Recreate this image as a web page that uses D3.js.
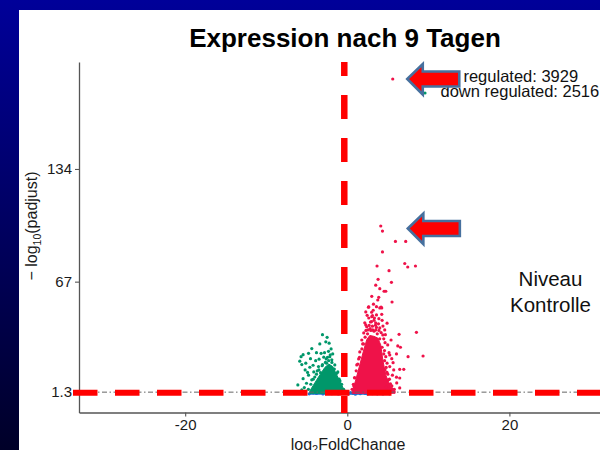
<!DOCTYPE html>
<html>
<head>
<meta charset="utf-8">
<script src="https://cdn.jsdelivr.net/npm/d3@7/dist/d3.min.js"></script>
<style>
  html, body { margin: 0; padding: 0; background: #fff; }
  svg { display: block; }
  text { font-family: "Liberation Sans", Arial, Helvetica, sans-serif; }
</style>
</head>
<body>
<svg id="chart" width="600" height="450"></svg>
<script>
// ---------------- data ----------------
const title = "Expression nach 9 Tagen";
const xTicks = [-20, 0, 20];
const yTicks = [1.3, 67, 134];
const yTickLabels = ["1.3", "67", "134"];
const legendLines = ["up regulated: 3929", "down regulated: 2516"];
const noteLines = ["Niveau", "Kontrolle"];
const padjThreshold = 1.3;
const overlayVerticalFC = -0.37;

// dense cores (outline of the solid mass of overlapping points), [log2FC, -log10 padj]
const upCore = [[0.6,1.4],[1.05,8.6],[1.54,17.5],[2.03,26.4],[2.40,32.5],[2.77,35.0],[3.27,34.5],[3.76,33.5],[4.13,29.4],[4.38,20.5],[4.75,11.5],[5.24,5.6],[5.9,2.0],[5.9,0.6],[0.6,0.6]];
const downCore = [[-4.62,2.0],[-4.01,6.8],[-3.39,11.5],[-2.77,16.0],[-2.28,18.0],[-1.79,16.5],[-1.30,11.5],[-0.80,6.8],[-0.35,2.0],[-0.35,0.6],[-4.6,0.6]];
const nsCore = [[-4.6,0.1],[-4.6,1.0],[5.3,1.0],[5.3,0.1]];

// individual up-regulated points
const upPoints = [
  [5.61,187.5],[4.13,100.1],[4.34,97.1],[5.94,90.9],[7.21,90.9],[4.34,84.7],[3.67,76.3],[7.09,77.8],
  [7.46,75.7],[8.41,76.3],[5.15,73.5],[3.80,68.4],[5.45,66.6],[3.51,64.9],[4.01,62.8],[4.54,61.3],
  [4.75,61.3],[3.02,58.3],[3.88,57.7],[5.52,54.9],[3.23,53.6],[4.01,51.4],[4.25,51.4],[2.65,52.0],
  [3.11,46.8],[3.60,47.2],[4.25,47.6],[3.35,45.4],[2.98,43.2],[3.85,41.9],[4.91,42.3],[3.48,41.1],
  [2.81,39.1],[3.60,52.1],[4.17,51.8],[2.61,51.8],[3.02,46.2],[4.17,36.7],[6.39,35.7],[8.53,36.9],
  [5.40,32.3],[4.66,30.7],[6.23,28.8],[6.56,28.0],[4.59,26.0],[5.15,24.8],[6.07,24.0],[9.35,22.8],
  [7.50,22.4],[4.75,22.4],[5.49,21.2],[5.65,18.8],[4.91,18.5],[5.24,16.5],[6.47,14.9],[6.97,14.9],
  [4.66,14.5],[5.57,11.4],[6.07,10.2],[6.47,9.7],[5.08,8.6],[5.33,6.2],[4.83,4.2],[2.86,43.0],
  [2.53,38.3],[2.28,49.0],[3.76,56.1],[2.65,45.4],[3.51,38.3],[4.01,39.5],[2.28,41.3],[3.14,38.3],
  [4.38,35.3],[4.62,38.3],[2.03,36.5],[1.79,32.3],[4.99,29.4],[5.24,23.4],[5.73,14.5],[6.10,6.8],
  [6.47,3.8],[1.54,25.2],[1.17,17.5],[0.92,9.7],[2.16,42.5],[3.3,44.0],[3.9,45.0],[2.4,40.2],
  [4.4,40.6],[3.0,48.8],[4.5,33.0],[1.9,30.0],[1.4,21.0],[0.8,5.0],[5.6,3.0],[4.9,13.0],
  [2.5,36.0],[2.9,38.0],[3.3,37.5],[3.7,36.0],[2.2,34.0],[4.0,33.0],[2.0,30.0],[4.3,28.0],
  [1.8,27.0],[4.5,24.0],[1.5,22.0],[4.6,20.0],[1.3,18.0],[4.8,16.0],[1.1,14.0],[5.0,12.0],
  [0.9,10.0],[5.2,9.0],[0.75,6.0],[5.5,5.0],[0.6,3.0],[5.8,3.0],[3.1,40.5],[3.5,42.5],
  [2.7,41.0],[3.9,38.0],[4.3,44.0],[3.2,50.0],[2.45,47.0],[4.7,35.5],[2.3,38.0],[3.6,39.8]
];

// individual down-regulated points
const downPoints = [
  [-3.06,35.5],[-2.49,33.9],[-3.39,30.0],[-2.65,31.2],[-2.24,30.4],[-4.38,27.2],[-3.80,24.8],[-3.23,24.4],
  [-2.81,24.8],[-5.45,23.6],[-4.78,24.4],[-2.32,25.6],[-5.70,22.4],[-4.54,21.2],[-3.48,20.9],[-2.90,22.1],
  [-2.16,22.4],[-5.86,19.7],[-5.12,18.5],[-4.22,17.3],[-5.61,17.7],[-4.62,16.1],[-3.55,16.5],[-3.06,17.7],
  [-2.56,18.5],[-5.20,14.5],[-4.13,13.3],[-3.30,12.9],[-4.78,11.4],[-5.45,9.3],[-4.38,8.6],[-5.03,6.6],
  [-6.10,5.6],[-4.01,10.3],[-1.91,20.5],[-1.54,17.5],[-1.17,13.3],[-5.61,2.6],[-3.9,20.0],[-2.0,27.0],
  [-4.9,13.0],[-3.7,14.0],[-2.6,21.0],[-1.8,24.0],[-5.3,4.0],[-0.9,8.0],
  [-4.8,3.0],[-4.5,6.0],[-4.2,9.0],[-3.8,12.0],[-3.5,14.5],[-3.1,17.0],[-2.7,19.0],[-2.3,20.0],
  [-1.9,19.0],[-1.6,15.0],[-1.3,12.5],[-1.0,9.0],[-0.7,6.0],[-0.45,3.0],[-2.45,22.0],[-2.1,23.5]
];

// non-significant points (below threshold)
const nsPoints = [
  [-4.7,0.3],[-4.2,0.9],[-3.8,0.5],[-3.3,1.1],[-3.0,0.2],[-2.6,0.7],[-2.2,1.0],[-1.9,0.4],
  [-1.5,0.8],[-1.1,0.2],[-0.8,1.1],[-0.5,0.5],[-0.2,0.9],[0.1,0.3],[0.4,1.0],[0.7,0.6],
  [1.0,0.1],[1.3,0.9],[1.6,0.4],[1.9,1.1],[2.2,0.6],[2.5,0.2],[2.8,0.8],[3.1,0.4],
  [3.4,1.0],[3.7,0.3],[4.0,0.7],[4.4,0.2],[4.8,0.6],[5.2,0.3],[-5.3,0.4]
];

// annotation arrows: tip positions in data coordinates
const arrowTips = [[7.40,187.5],[7.47,98.6]];

// ---------------- drawing ----------------
const svg = d3.select("#chart");

// slide background
const defs = svg.append("defs");
const grad = defs.append("linearGradient").attr("id","bg").attr("x1",0).attr("y1",0).attr("x2",0).attr("y2",1);
grad.append("stop").attr("offset","0%").attr("stop-color","#000099");
grad.append("stop").attr("offset","100%").attr("stop-color","#000028");
svg.append("rect").attr("width",600).attr("height",450).attr("fill","url(#bg)");
svg.append("rect").attr("x",19).attr("y",10).attr("width",581).attr("height",440).attr("fill","#fff");

const x = d3.scaleLinear().domain([-33.1, 31.5]).range([79, 602.6]);
const y = d3.scaleLinear().domain([-10.8, 197.6]).range([412.5, 62]);

const colUp = "#EF1249", colDown = "#00976A", colNs = "#1F6FD0";
const R = 1.6;

// title
svg.append("text").attr("x",345).attr("y",46.5).attr("text-anchor","middle")
  .attr("font-size",26).attr("font-weight","bold").attr("fill","#000").text(title);

// axes
const yAxis = d3.axisLeft(y).tickValues(yTicks).tickFormat((d,i)=>yTickLabels[i]).tickSize(4).tickSizeOuter(0);
const xAxis = d3.axisBottom(x).tickValues(xTicks).tickFormat(d3.format("d")).tickSize(4).tickSizeOuter(0);
const gy = svg.append("g").attr("transform","translate(79,0)").call(yAxis);
const gx = svg.append("g").attr("transform","translate(0,412.5)").call(xAxis);
[gx, gy].forEach(g => {
  g.select(".domain").attr("stroke","#555").attr("stroke-width",1.3);
  g.selectAll(".tick line").attr("stroke","#555").attr("stroke-width",1.1);
  g.selectAll(".tick text").attr("font-size",15).attr("fill","#1a1a1a")
    .attr("font-family","'Liberation Sans', Arial, sans-serif");
});
gx.selectAll(".tick text").text(d => d < 0 ? "-" + Math.abs(d) : d);

// axis titles
const xt = svg.append("text").attr("x",348).attr("y",449.5).attr("text-anchor","middle")
  .attr("font-size",16).attr("fill","#1a1a1a");
xt.append("tspan").text("log");
xt.append("tspan").attr("font-size",11).attr("dy",3.5).text("2");
xt.append("tspan").attr("dy",-3.5).text("FoldChange");

const yt = svg.append("text").attr("transform","translate(37,226) rotate(-90)").attr("text-anchor","middle")
  .attr("font-size",16).attr("fill","#1a1a1a");
yt.append("tspan").text("\u2212 log");
yt.append("tspan").attr("font-size",10.5).attr("dy",3.5).text("10");
yt.append("tspan").attr("dy",-3.5).text("(padjust)");

// points
const plot = svg.append("g");
const lineGen = d3.line().x(d => x(d[0])).y(d => y(d[1]));
function core(data, col) {
  plot.append("path").attr("d", lineGen(data) + "Z").attr("fill", col).attr("stroke", col).attr("stroke-width", 1).attr("stroke-linejoin","round");
}
function pts(data, col) {
  plot.append("g").selectAll("circle").data(data).join("circle")
    .attr("cx", d => x(d[0])).attr("cy", d => y(d[1])).attr("r", R).attr("fill", col);
}
core(nsCore, colNs); pts(nsPoints, colNs);
core(downCore, colDown); pts(downPoints, colDown);
core(upCore, colUp); pts(upPoints, colUp);

// threshold line (ggplot dot-dash)
svg.append("line").attr("x1",79).attr("x2",600).attr("y1",y(padjThreshold)).attr("y2",y(padjThreshold))
  .attr("stroke","#666").attr("stroke-width",1).attr("stroke-dasharray","5,2.5,1.5,2.5");

// legend text (top right)
legendLines.forEach((t,i) => {
  svg.append("text").attr("x",440.5).attr("y",81.5 + i*15).attr("font-size",16.5).attr("fill","#111").text(t);
});
svg.append("circle").attr("cx",425).attr("cy",78).attr("r",R).attr("fill",colUp);
svg.append("circle").attr("cx",425).attr("cy",93).attr("r",R).attr("fill",colDown);

// note
noteLines.forEach((t,i) => {
  svg.append("text").attr("x",550.5).attr("y",286 + i*25.5).attr("text-anchor","middle")
    .attr("font-size",20.5).attr("fill","#111").text(t);
});

// red dashed overlay lines
svg.append("line").attr("x1",73).attr("x2",610).attr("y1",y(padjThreshold)+0.7).attr("y2",y(padjThreshold)+0.7)
  .attr("stroke","#ff0000").attr("stroke-width",6).attr("stroke-dasharray","24.5,17.5");
svg.append("line").attr("x1",x(overlayVerticalFC)).attr("x2",x(overlayVerticalFC)).attr("y1",62).attr("y2",413)
  .attr("stroke","#ff0000").attr("stroke-width",6.5).attr("stroke-dasharray","24,19").attr("stroke-dashoffset",10);

// arrows
arrowTips.forEach(t => {
  const tx = x(t[0]), ty = y(t[1]);
  const p = d3.path();
  p.moveTo(tx, ty);
  p.lineTo(tx+15.5, ty-15);
  p.lineTo(tx+15.5, ty-7.5);
  p.lineTo(tx+52, ty-7.5);
  p.lineTo(tx+52, ty+7.5);
  p.lineTo(tx+15.5, ty+7.5);
  p.lineTo(tx+15.5, ty+15.5);
  p.closePath();
  svg.append("path").attr("d", p.toString()).attr("fill","#ff0000")
    .attr("stroke","#46709E").attr("stroke-width",2.6).attr("stroke-linejoin","miter");
});
</script>
</body>
</html>
